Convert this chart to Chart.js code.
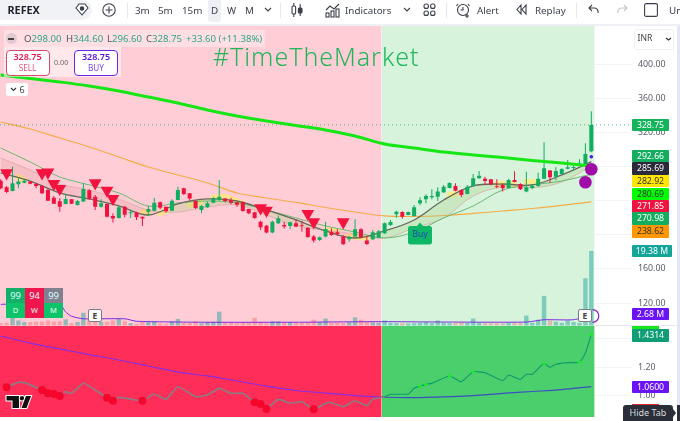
<!DOCTYPE html>
<html><head><meta charset="utf-8">
<script src="https://cdn.jsdelivr.net/npm/chart.js@4"></script>
<style>
html,body{margin:0;padding:0;background:#fff;width:680px;height:421px;overflow:hidden;font-family:"Noto Sans",sans-serif}
#c{position:absolute;left:0;top:0}
#ov{position:absolute;left:0;top:0;width:680px;height:421px;pointer-events:none}
#ov div,#ov span{position:absolute;white-space:nowrap}
.tb{top:2.5px;font-size:9.8px;line-height:15px;color:#3b3f4a}
.tag{left:632px;width:37px;height:12.5px;line-height:12.5px;font-size:8.7px;text-align:center;border-radius:1px}
svg{position:absolute;overflow:visible}
</style></head><body>
<canvas id="c" width="680" height="421"></canvas>
<div id="ov"></div>
<script>
const opens=[263.4,255.6,251.3,259.2,261.1,262.3,259.5,257.2,252.5,243.5,239.3,236.1,241.6,235.0,238.9,252.1,244.7,233.0,236.1,222.1,219.7,233.0,225.2,226.0,221.3,227.1,228.3,238.1,233.0,228.3,240.8,254.5,248.6,239.6,229.1,232.2,237.7,240.8,242.4,240.8,238.1,238.5,230.3,226.4,215.4,210.7,202.6,213.5,211.5,210.4,213.5,211.1,208.4,197.9,194.0,197.9,203.7,202.9,197.9,194.8,197.9,206.5,193.2,194.8,196.7,201.8,211.5,224.0,226.8,223.2,222.1,236.9,241.6,243.9,244.7,249.8,254.9,257.2,252.5,247.8,257.2,266.2,265.8,265.0,257.2,258.4,254.9,264.2,259.5,250.6,254.9,257.2,265.8,275.2,268.1,271.2,277.5,278.3,283.7,283.0,298.00];
const highs=[265.0,257.2,279.8,266.2,265.0,262.3,260.3,258.4,254.5,245.5,242.8,247.8,242.0,240.8,260.3,253.3,246.7,241.6,236.9,225.2,233.8,233.8,229.1,227.1,221.3,233.8,243.2,238.9,233.0,241.6,256.4,255.2,248.6,240.8,234.9,238.9,244.7,264.2,242.8,243.5,238.1,238.9,230.3,227.1,216.6,211.5,216.6,222.5,215.4,215.4,218.2,216.6,208.8,199.8,197.9,215.4,207.6,206.5,199.4,198.6,218.2,207.6,198.6,205.7,205.7,214.3,217.4,228.3,227.5,227.2,234.9,243.9,247.4,253.3,255.6,258.4,261.5,260.3,253.3,258.4,271.3,274.8,268.1,265.0,265.0,259.5,265.8,274.4,260.3,274.0,259.5,272.8,308.3,275.9,279.1,277.9,287.6,282.8,288.4,307.2,344.60];
const lows=[253.3,248.6,251.0,254.5,260.3,259.2,254.5,247.8,239.5,236.1,227.1,235.8,236.1,234.2,238.5,240.8,229.1,231.8,220.5,214.3,219.0,220.5,219.7,217.4,210.4,222.1,227.5,229.9,226.0,227.9,240.4,246.7,240.0,230.3,225.2,231.8,236.9,240.0,238.1,235.7,233.0,227.1,224.0,218.9,205.7,201.8,201.8,212.7,207.2,206.8,208.8,203.7,196.7,190.9,192.8,197.1,199.0,199.0,188.5,192.0,197.1,195.9,188.1,194.0,195.9,201.0,210.4,220.1,218.9,222.8,221.3,234.6,236.9,241.6,239.6,249.0,254.5,250.9,243.9,247.4,256.4,265.8,258.4,258.0,254.5,250.6,254.1,261.5,252.5,249.8,253.3,256.4,265.0,261.1,263.8,270.9,276.7,275.2,281.4,282.2,296.60];
const closes=[254.5,250.2,260.3,262.3,263.4,259.9,257.2,248.6,240.0,236.5,233.0,242.0,236.5,239.6,253.7,242.0,233.0,236.9,221.3,219.0,232.2,223.6,226.4,220.5,219.0,230.3,237.7,231.8,227.5,240.0,252.5,247.8,242.4,231.4,233.8,236.9,242.7,244.7,239.6,237.7,235.3,227.9,225.2,219.7,208.8,202.6,215.4,219.3,209.6,214.7,209.6,210.4,197.5,193.2,197.1,206.8,199.8,201.0,188.9,197.1,206.5,197.1,189.3,202.9,204.1,213.5,215.0,227.1,221.3,226.8,232.2,240.4,245.5,245.5,250.6,256.4,260.7,251.7,246.7,256.4,266.2,269.3,263.1,259.2,256.4,254.5,264.2,261.9,253.3,255.6,257.2,265.8,277.9,267.3,274.8,277.1,279.1,279.5,284.5,294.7,328.75];
const volumes=[0.6,0.7,2.2,1.3,0.9,0.9,1.0,1.0,1.3,1.0,1.1,1.6,0.6,0.9,3.3,1.3,1.0,0.9,1.0,1.3,1.7,1.1,0.6,0.45,0.9,0.9,1.1,0.6,0.45,1.1,1.7,0.7,0.7,1.1,0.6,0.9,1.0,3.6,0.7,0.7,0.6,0.9,0.9,2.0,0.9,0.6,1.1,1.1,0.7,0.9,0.7,0.8,0.9,1.5,0.9,1.8,0.7,0.7,0.6,0.9,2.1,1.5,0.9,0.8,0.7,1.3,0.7,0.6,0.6,0.5,0.6,0.7,0.9,0.6,1.3,0.7,0.6,0.6,0.8,0.7,1.8,0.7,0.6,0.6,0.6,0.6,0.7,0.7,0.7,2.6,0.7,1.5,7.7,1.3,1.0,0.7,1.3,0.9,0.7,12.3,19.38];

const sampleIdx=[0,5,10,15,20,25,30,35,40,45,50,55,60,65,70,75,80,85,90,95,100];
const emaThick=[387.2,383.1,379.0,374.3,368.4,361.4,354.4,346.2,339.2,333.3,328.0,322.8,315.7,306.4,301.7,297.0,293.5,290.6,287.1,284.1,280.69];
const emaOrange=[332.1,323.9,313.4,302.9,291.2,279.4,270.1,260.7,249.0,243.1,237.9,232.0,226.7,222.1,221.5,222.6,225.0,227.9,230.8,234.4,238.62];
const emaThinGreen=[301.7,285.3,267.7,258.4,249.0,233.8,237.3,239.6,237.3,229.1,219.7,210.4,203.3,196.3,203.3,219.7,233.8,252.5,258.4,263.0,270.98];
const emaDark=[272.4,263.0,249.0,242.0,233.8,223.2,236.1,242.0,239.6,229.1,217.4,204.5,196.3,204.5,217.4,240.8,257.2,259.5,258.4,270.1,285.69];
const emaRibbon=[290.0,275.9,259.5,252.5,242.0,229.1,226.7,232.6,234.9,223.2,210.4,205.7,201.0,196.3,208.0,219.7,245.5,256.0,254.9,261.9,280.6];
const macroLine=[1.421,1.371,1.329,1.289,1.25,1.207,1.164,1.136,1.1,1.064,1.032,1.014,0.996,0.984,0.981,0.986,0.996,1.012,1.025,1.039,1.06];

const yellowIdx=[3,4,5,24,25,26,27,28,29,32,33,34,35,36,37,38,39,40,41,42,55,56,57,58,59,60,61,62,63,64,76,77,78,79,84,85,86,87,88,89,90,91,92];
const yellowVal=[267.7,264.2,null,226.7,225.6,null,225.6,227.9,null,235,237.3,238.5,null,243.1,244.3,244.3,242,239.6,236.1,null,205,205,204,null,199,198,197,197,null,null,246.6,248,null,null,259.5,259.5,259,259,null,262,262,262,null];

const triIdx=[1,7,8,9,10,16,18,19,44,45,52,53,58];
const triVal=[272.4,272.4,273.2,259.9,254.0,260.7,252.0,242.3,231.4,228.6,224.8,215.0,215.0];
const circleIdx=[100,99];
const circleVal=[276.8,261.5];
const dotIdx=[100];
const dotVal=[291.5];
const lastClose=328.75;

const volMaIdx=[0,2,10,11,12,14,21,23,34,50,64,75,89,92,97,100];
const volMaVal=[5.5,5.6,5.5,3.5,2.4,1.75,1.75,1.1,0.85,0.85,1.0,0.9,0.9,1.5,1.5,2.68];

const oscIdx=[1,3,4,7,8,10,11,12,14,16,18,19,20,22,24,26,28,30,33,35,37,39,41,43,44,45,47,49,51,53,55,56,58,60,62,63,65,66,69,70,72,73,74,76,78,80,82,85,86,88,89,90,92,93,94,96,98,99,100];
const oscVal=[1.055,1.09,1.088,1.036,1.012,0.993,1.024,1.012,1.084,1.036,0.981,0.959,0.983,0.971,0.959,1.007,0.969,1.059,0.988,1.0,1.048,1.012,1.012,0.948,0.936,0.9,0.969,0.941,0.952,0.898,0.941,0.945,0.917,0.959,0.924,0.969,0.988,1.005,1.007,1.048,1.076,1.083,1.102,1.136,1.095,1.166,1.159,1.102,1.143,1.112,1.148,1.148,1.226,1.198,1.219,1.231,1.234,1.30,1.4314];
const redDotIdx=[1,7,8,9,10,18,19,24,43,44,45,53];
const redDotVal=[1.055,1.036,1.012,1.007,0.993,0.981,0.959,0.959,0.948,0.936,0.9,0.898];
const limeIdx=[71,72,76,80,92,98,100];
const limeVal=[1.062,1.076,1.136,1.166,1.226,1.234,1.4314];

const priceTicks=[400,360,320,280,240,200,160,120];
const indTicks=[1.4,1.2,1.0];
const gridIdx=[2.93,23.1,43.9,63.0,82.9,102];
const splitIdx=64.5;

/* layout (scale limits, derived from the reference's axes) */
const xMin=-0.1185,xMax=106.89;
const pMax=444.55,pMin=93.8,iMax=1.4964,iMin=0.8429,vMax=77.87,vMin=-23.79;
const UP='#0fae60',DOWN='#f0123f';
const xy=(xs,ys)=>xs.map((x,k)=>({x,y:ys[k]}));
const candleIdx=opens.map((_,i)=>i);
const isUp=opens.map((o,i)=>closes[i]>=o);

function band(scale,x0,x1,top,bot,color,order){
  return {type:'line',yAxisID:scale,data:[{x:x0,y:top},{x:x1,y:top}],borderWidth:0,pointRadius:0,
          fill:{value:bot},backgroundColor:color,order};
}
function ln(data,color,width,order,extra){
  return Object.assign({type:'line',data,borderColor:color,borderWidth:width,pointRadius:0,tension:0.35,fill:false,order,yAxisID:'y'},extra||{});
}
function pts(data,style,radius,color,order,scale,rotation){
  return {type:'line',showLine:false,data,pointStyle:style,pointRadius:radius,pointBackgroundColor:color,pointBorderWidth:0,order,yAxisID:scale,pointRotation:rotation||0};
}

const datasets=[
  band('y',xMin,splitIdx,pMax,pMin,'#ffcdd6',100),
  band('y',splitIdx,100.56,pMax,pMin,'#d7f3dc',100),
  band('yI',xMin,splitIdx,iMax,iMin,'#ff2e58',100),
  band('yI',splitIdx,100.56,iMax,iMin,'#4bce6c',100),
  ln(xy(sampleIdx,emaOrange),'#f5ac45',1.2,60),
  ln(xy(yellowIdx,yellowVal),'rgba(255,232,120,0.8)',6,59,{spanGaps:false,borderCapStyle:'round'}),
  ln(xy(sampleIdx,emaDark),'#666a5c',1.3,50),
  ln(xy(sampleIdx,emaRibbon),'rgba(215,165,165,0.7)',1,58,{fill:{target:'-1',above:'rgba(215,120,120,0.18)',below:'rgba(170,205,130,0.3)'}}),
  ln(xy(sampleIdx,emaThinGreen),'#6cb873',1,57),
  {type:'bar',yAxisID:'yV',data:xy(candleIdx,volumes),grouped:false,barThickness:4.4,inflateAmount:0,order:55,
   backgroundColor:isUp.map(u=>u?'rgba(38,166,154,0.5)':'rgba(239,83,80,0.36)')},
  ln(xy(volMaIdx,volMaVal),'#7d2be0',1,54,{yAxisID:'yV',tension:0.2}),
  {type:'bar',yAxisID:'y',data:candleIdx.map(i=>({x:i,y:[lows[i],highs[i]]})),grouped:false,barThickness:1,inflateAmount:0,order:30,
   backgroundColor:isUp.map(u=>u?UP:DOWN)},
  {type:'bar',yAxisID:'y',data:candleIdx.map(i=>({x:i,y:[Math.min(opens[i],closes[i]),Math.max(opens[i],closes[i])]})),grouped:false,barThickness:4,inflateAmount:0,order:29,
   backgroundColor:isUp.map(u=>u?UP:DOWN)},
  ln(xy(sampleIdx,emaThick),'#16e616',3,20),
  ln([{x:xMin,y:lastClose},{x:xMax,y:lastClose}],'rgba(15,160,90,0.75)',1,25,{borderDash:[1,3],tension:0}),
  pts(xy(triIdx,triVal),'triangle',7.4,'#f2133f',10,'y',180),
  pts(xy(circleIdx,circleVal),'circle',6.3,'#a00ca8',9,'y'),
  pts(xy(dotIdx,dotVal),'circle',1.8,'#3a22d8',8,'y'),
  ln(xy(sampleIdx,macroLine),'#8a2be2',1.2,40,{yAxisID:'yI',segment:{borderColor:c=>c.p0.parsed.x>=splitIdx?'#3a4fc0':'#8a2be2'}}),
  ln(xy(oscIdx,oscVal),'#8c7b80',1.6,39,{yAxisID:'yI',tension:0.15,segment:{borderColor:c=>c.p0.parsed.x>=splitIdx?'#0e9a6c':'#8c7b80',borderWidth:c=>c.p0.parsed.x>=splitIdx?1.1:1.7}}),
  pts(xy(redDotIdx,redDotVal),'circle',4,'#f5062c',38,'yI'),
  pts(xy(limeIdx,limeVal),'circle',1.7,'#18ee28',37,'yI'),
];

const fitRight=s=>{s.width=48;s.paddingTop=0;s.paddingBottom=0;};
const tickFont={family:'"Noto Sans"',size:8.8};
new Chart(document.getElementById('c'),{
  data:{datasets},
  options:{
    responsive:false,animation:false,devicePixelRatio:1,events:[],
    layout:{autoPadding:false,padding:{top:26,bottom:4,left:0,right:0}},
    plugins:{legend:{display:false},tooltip:{enabled:false}},
    scales:{
      x:{type:'linear',min:xMin,max:xMax,offset:false,
         grid:{color:'rgba(60,60,80,0.06)',drawTicks:false},border:{display:false},
         ticks:{display:false},
         afterBuildTicks:s=>{s.ticks=gridIdx.map(value=>({value}))},afterFit:s=>{s.height=0}},
      y:{type:'linear',position:'right',stack:'panes',stackWeight:299.5,weight:1,min:pMin,max:pMax,
         grid:{color:'rgba(60,60,80,0.06)',drawTicks:false},border:{display:false},
         ticks:{color:'#5a5d68',font:tickFont,padding:6,autoSkip:false,callback:v=>v.toFixed(2)},
         afterBuildTicks:s=>{s.ticks=priceTicks.map(value=>({value}))},afterFit:fitRight},
      yI:{type:'linear',position:'right',stack:'panes',stackWeight:91.5,weight:2,min:iMin,max:iMax,
         grid:{color:'rgba(60,60,80,0.06)',drawTicks:false},border:{display:false},
         ticks:{color:'#5a5d68',font:tickFont,padding:6,autoSkip:false,callback:v=>v.toFixed(2)},
         afterBuildTicks:s=>{s.ticks=indTicks.map(value=>({value}))},afterFit:fitRight},
      yV:{type:'linear',display:false,position:'right',min:vMin,max:vMax}
    }
  }
});

/* ---------- overlay text and icons ---------- */
const ov=document.getElementById('ov');
function box(css,html){const d=document.createElement('div');d.style.cssText=css;if(html!=null)d.innerHTML=html;ov.appendChild(d);return d;}
function svg(x,y,w,h,body){const d=document.createElement('div');d.style.cssText=`left:${x}px;top:${y}px;width:${w}px;height:${h}px`;
  d.innerHTML=`<svg width="${w}" height="${h}" viewBox="0 0 ${w} ${h}" fill="none" stroke="#3b3f4a" stroke-width="1.1">${body}</svg>`;ov.appendChild(d);}

// toolbar
box('left:0;top:24px;width:680px;height:2px;background:#eef0f5');
box('left:677px;top:26px;width:3px;height:395px;background:#e3e7f5');
box('left:0;top:0;width:92px;height:20px;background:#f0f2f6;border-radius:0 10px 10px 0');
box('left:7.5px;top:1.5px;font-size:10.8px;font-weight:700;line-height:16px;color:#1e222d','REFEX');
svg(75,3,14,13,'<path d="M1 5l3-4h6l3 4-6 7z" fill="#fff"/><circle cx="7" cy="5.5" r="1.7" fill="#3b3f4a"/>');
svg(102,3,14,14,'<circle cx="7" cy="7" r="6.2"/><path d="M7 3.5v7M3.5 7h7"/>');
[[127],[280],[446],[576]].forEach(([x])=>box(`left:${x}px;top:3px;width:1px;height:15px;background:#e6e8ee`));
[['3m',135],['5m',158],['15m',182],['W',227],['M',245],['Indicators',345],['Alert',477],['Replay',535],['Un',669]].forEach(([t,x])=>box(`left:${x}px;`,t).className='tb');
box('left:208px;top:0;width:13px;height:22px;background:#eef0f4;border-radius:0 0 3px 3px');
box('left:211px;','D').className='tb';
svg(264,7,8,5,'<path d="M1 1l3 3 3-3"/>');
svg(403,7,8,5,'<path d="M1 1l3 3 3-3"/>');
svg(291,2,12,16,'<rect x="1" y="4" width="3.6" height="8" rx="1"/><path d="M2.8 1v3M2.8 12v3"/><rect x="7.4" y="6" width="3.6" height="5" rx="1" fill="#3b3f4a"/><path d="M9.2 2v4M9.2 11v3"/>');
svg(325,2,15,16,'<path d="M1 8l4-4 4 3 5-5"/><rect x="1" y="11" width="3" height="4" /><rect x="6" y="9" width="3" height="6"/><rect x="11" y="7" width="3" height="8"/>');
svg(423,3,13,14,'<rect x="1" y="1" width="4.4" height="4.4" rx="2"/><rect x="7.6" y="1" width="4.4" height="4.4" rx="2"/><rect x="1" y="8" width="4.4" height="4.4" rx="2"/><rect x="7.6" y="8" width="4.4" height="4.4" rx="2"/>');
svg(456,2,15,16,'<circle cx="7" cy="8" r="5.5"/><path d="M7 5v3H4.5M2 2L0.5 4M12 2l1.5 2M11 12v4M9 14h4"/>');
svg(516,4,11,11,'<path d="M5 1L1 5.5 5 10zM10 1L6 5.5 10 10z"/>');
svg(588,4,12,11,'<path d="M4 1L1 4l3 3M1 4h6a4 4 0 0 1 3 5"/>');
svg(616,4,12,11,'<path d="M8 1l3 3-3 3M11 4H5a4 4 0 0 0-3 5" stroke="#c2c5cc"/>');
svg(644,3,14,14,'<rect x="0.6" y="0.6" width="12.8" height="12.8" rx="1.5"/>');

// legend
box('left:4px;top:30px;width:261px;height:17px;background:rgba(255,255,255,0.35)');
box('left:5.5px;top:33px;width:11px;height:11px;border-radius:6px;background:rgba(140,140,150,.25)');
box('left:8px;top:37.5px;width:6px;height:2px;background:#444');
const green='color:#2da58a';
const ohlcLabels=['O','H','L','C'],ohlcValues=['298.00','344.60','296.60','328.75'],ohlcLeft=[24,66,107,146];
ohlcLabels.forEach((l,i)=>box(`left:${ohlcLeft[i]}px;top:31px;font-size:9.6px;line-height:15px;color:#50535e`,`${l}<span style="position:static;${green}">${ohlcValues[i]}</span>`));
box(`left:186px;top:31px;font-size:9.6px;line-height:15px;${green}`,'+33.60 (+11.38%)');
box('left:4px;top:47px;width:117px;height:30px;background:rgba(255,255,255,0.55)');
box('left:5.5px;top:50px;width:42px;height:24px;border:1px solid #d8476c;border-radius:4px;background:#fff;text-align:center');
box('left:5.5px;top:51px;width:44px;text-align:center;font-size:9px;line-height:12px;font-weight:600;color:#e8174f','328.75');
box('left:5.5px;top:61.5px;width:44px;text-align:center;font-size:8.2px;line-height:12px;color:#e8507a','SELL');
box('left:54px;top:56px;font-size:7.2px;line-height:12px;color:#666','0.00');
box('left:74px;top:50px;width:42px;height:24px;border:1px solid #6a25e0;border-radius:4px;background:#fff');
box('left:74px;top:51px;width:44px;text-align:center;font-size:9px;line-height:12px;font-weight:600;color:#5a12e0','328.75');
box('left:74px;top:61.5px;width:44px;text-align:center;font-size:8.2px;line-height:12px;color:#7a40e8','BUY');
box('left:6px;top:83px;width:22px;height:13px;background:#fff;border-radius:2px');
svg(10,87,7,5,'<path d="M1 1l2.5 2.5L6 1" stroke="#333"/>');
box('left:19.5px;top:82.5px;font-size:9px;line-height:14px;color:#444','6');

// watermark title
box('left:213px;top:39px;font-size:25px;font-weight:300;line-height:34px;color:#22b65c;letter-spacing:.95px','#TimeTheMarket');

// currency button and axis tags
box('left:634px;top:29px;width:38px;height:19px;border:1px solid #eef0f4;border-radius:3px;background:#fff');
box('left:637.5px;top:31px;font-size:8.6px;line-height:15px;color:#444','INR');
svg(665,37,7,4,'<path d="M1 1l2.5 2L6 1" stroke="#333"/>');
const tagTexts=['328.75','292.66','285.69','282.92','280.69','271.85','270.98','238.62','19.38 M','2.68 M','1.4314','1.0600'];
const tagStyle=[[125,'#14b45c','#fff'],[156,'#12ad5e','#fff'],[168.7,'#2a2a3a','#fff'],[181,'#ffe600','#333'],[194,'#00ff00','#333'],[206.7,'#f0133f','#fff'],[218.7,'#12ad5e','#fff'],[231.3,'#ff9800','#333'],[251,'#12a598','#fff',40],[314,'#6a14f5','#fff'],[335.7,'#0f9d76','#fff'],[387,'#6a14f5','#fff']];
box('left:632px;top:326px;width:27px;height:5px;background:#19e51c');
box('left:632px;top:404px;width:27px;height:5px;background:#e0272c');
tagTexts.forEach((t,i)=>{const s=tagStyle[i];const d=box(`top:${s[0]-6.25}px;background:${s[1]};color:${s[2]};${s[3]?'width:'+s[3]+'px;':''}`,t);d.className='tag';});

// pane separator
box('left:594px;top:325px;width:83px;height:1px;background:#e6e8ee');

// buy label
svg(408,222,24,23,'<path d="M0 6.5Q0 4 2.5 4H9L12 .5 15 4h6.5Q24 4 24 6.5v14q0 2-2.5 2h-19Q0 22.5 0 20.5z" fill="#0fb866" stroke="none"/>');
box('left:408px;top:227px;width:24px;text-align:center;font-size:8.8px;line-height:15px;color:#2347b8','Buy');

// sentiment badge
const badgeTop=['99','94','99'],badgeBottom=['D','W','M'];
const topBg=['#14b06a','#f0154d','#808090'],botBg=['#0ec46a','#f0154d','#0ec46a'];
badgeTop.forEach((t,i)=>{
  box(`left:${6+i*19}px;top:287.5px;width:19px;height:15px;background:${topBg[i]};color:#dff;font-size:9.4px;line-height:15px;text-align:center`,t);
  box(`left:${6+i*19}px;top:302.5px;width:19px;height:15px;background:${botBg[i]};color:#eafff2;font-size:7.5px;line-height:15px;text-align:center`,badgeBottom[i]);
});

// earnings markers
const eCss='width:12px;height:11px;background:#fff;border:1px solid #787b86;border-radius:2px;text-align:center;font-size:8.5px;font-weight:700;line-height:11px;color:#444;';
box(eCss+'left:88px;top:309px;','E');
svg(586,309,13,14,'<path d="M6.5 0.7A6.3 6.3 0 0 1 6.5 13.3" stroke="#8d20c8" stroke-width="1.2"/>');
box(eCss+'left:578px;top:309px;','E');

// TradingView logo
svg(6,395,25,13,'<g fill="#111" stroke="#fff" stroke-width="2" paint-order="stroke"><path d="M0.5 1H13V13H6.5V5.5H0.5Z"/><circle cx="16" cy="3.2" r="2.2"/><path d="M15.5 13L20 1H25L20.5 13Z"/></g>');

// hide-tab tooltip
box('left:623px;top:405px;width:50px;height:16px;background:#2a2e39;border-radius:3px 3px 0 0;color:#d8d9dd;font-size:9px;line-height:16px;text-align:center','Hide Tab');
svg(673,409,3,8,'<path d="M0 0l3 4-3 4z" fill="#2a2e39" stroke="none"/>');
box('left:677px;top:405px;width:3px;height:16px;background:#2a2e39');
</script>
</body></html>
